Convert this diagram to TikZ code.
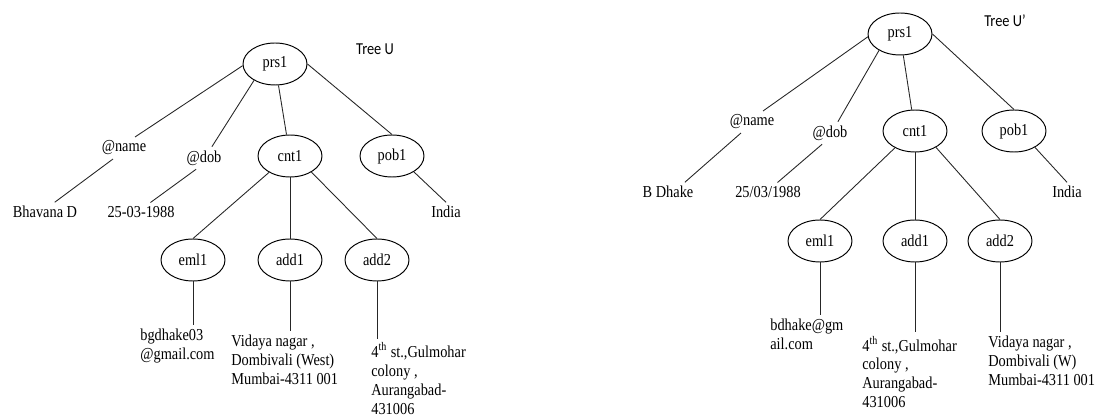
\documentclass[tikz,border=0pt]{standalone}
\usepackage{fontspec}
\setmainfont{Liberation Serif}[FakeStretch=0.86]
\newfontfamily\labelfont{Carlito}[FakeStretch=0.86]
\usepackage{tikz}
\usetikzlibrary{shapes.geometric,positioning}

\begin{document}
\begin{tikzpicture}[
    x=0.02cm, y=-0.02cm,
    font=\fontsize{9.5}{10.7}\selectfont,
    elem/.style={ellipse, draw, line width=0.55pt, minimum width=1.28cm, minimum height=0.84cm, inner sep=0pt},
    attr/.style={inner sep=2pt},
    val/.style={inner sep=2pt, align=left, anchor=north west},
    title/.style={font=\labelfont\fontsize{9.5}{11}\selectfont},
    link/.style={line width=0.5pt, draw=black!85}
]
\useasboundingbox (0,0) rectangle (1095,418);

% Tree U
\node[elem] (prs1) at (275,64) {prs1};
\node[title] (treeU) at (375,49) {Tree U};

% Attributes and children
\node[attr] (name1) at (124,148) {@name};
\node[attr] (dob1) at (204,158) {@dob};
\node[elem] (cnt1) at (290,156) {cnt1};
\node[elem] (pob1) at (392,156) {pob1};

% Values
\node[attr] (bhav) at (45,212) {Bhavana D};
\node[attr] (date1) at (141,212) {25-03-1988};
\node[attr] (india1) at (446,212) {India};

% Contact elements
\node[elem] (eml1) at (193,260) {eml1};
\node[elem] (add1) at (290,260) {add1};
\node[elem] (add2) at (377,260) {add2};

\node[val] (mail1) at (136.5,325.5) {bgdhake03\\@gmail.com};
\node[val] (addr1) at (227.5,331.5) {Vidaya nagar ,\\Dombivali (West)\\Mumbai-4311 001};
\node[val] (addr2) at (367.5,339) {4\textsuperscript{th} st.,Gulmohar\\colony ,\\Aurangabad-\\431006};

% Links of tree U
\draw[link] (prs1.183) -- (name1.45);
\draw[link] (name1.225) -- (bhav.45);
\draw[link] (prs1.218) -- (dob1.55);
\draw[link] (dob1.235) -- (date1.45);
\draw[link] (prs1) -- (cnt1);
\draw[link] (prs1.east) -- (pob1.north);
\draw[link] (pob1.324) -- (india1.north);
\draw[link] (cnt1.218) -- (eml1.north);
\draw[link] (cnt1.south) -- (add1.north);
\draw[link] (cnt1.323) -- (add2.north);
\draw[link] (eml1.south) -- (eml1.south |- mail1.north);
\draw[link] (add1.south) -- (add1.south |- addr1.north);
\draw[link] (add2.south) -- (add2.south |- addr2.north);

% Tree U'
\node[elem] (prs2) at (900,34) {prs1};
\node[title] (treeU2) at (1005,21) {Tree U’};

% Attributes and children
\node[attr] (name2) at (752,122) {@name};
\node[attr] (dob2) at (830,133) {@dob};
\node[elem] (cnt2) at (915,131) {cnt1};
\node[elem] (pob2) at (1014,131) {pob1};

% Values
\node[attr] (bdh) at (668,192) {B Dhake};
\node[attr] (date2) at (768,192) {25/03/1988};
\node[attr] (india2) at (1067,192) {India};

% Contact elements
\node[elem] (eml2) at (820,241) {eml1};
\node[elem] (add3) at (915,241) {add1};
\node[elem] (add4) at (1000,241) {add2};

\node[val] (mail2) at (766.5,315.5) {bdhake@gm\\ail.com};
\node[val] (addr3) at (858.5,332.5) {4\textsuperscript{th} st.,Gulmohar\\colony ,\\Aurangabad-\\431006};
\node[val] (addr4) at (984.5,332.5) {Vidaya nagar ,\\Dombivali (W)\\Mumbai-4311 001};

% Links of tree U'
\draw[link] (prs2.185) -- (name2.45);
\draw[link] (name2.225) -- (bdh.30);
\draw[link] (prs2.218) -- (dob2.55);
\draw[link] (dob2.235) -- (date2.45);
\draw[link] (prs2) -- (cnt2);
\draw[link] (prs2.east) -- (pob2.north);
\draw[link] (pob2.322) -- (india2.north);
\draw[link] (cnt2.220) -- (eml2.north);
\draw[link] (cnt2.south) -- (add3.north);
\draw[link] (cnt2.322) -- (add4.north);
\draw[link] (eml2.south) -- (eml2.south |- mail2.north);
\draw[link] (add3.south) -- (add3.south |- addr3.north);
\draw[link] (add4.south) -- (add4.south |- addr4.north);

\end{tikzpicture}
\end{document}
